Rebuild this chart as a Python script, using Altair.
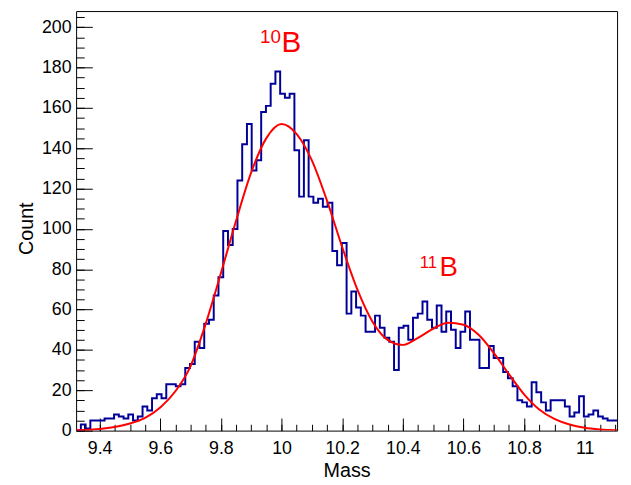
import altair as alt
import pandas as pd

# ---- data ----
x_min, x_max = 9.3225, 11.1067
counts = [0, 3, 1, 5, 5, 5, 6, 6, 8, 7, 6, 8, 5, 7, 12, 10, 16, 18, 16, 23,
          23, 22, 23, 31, 33, 44, 41, 53, 55, 67, 76, 99, 92, 100, 124, 142, 152, 129, 134, 158,
          161, 172, 178, 167, 165, 167, 139, 116, 144, 116, 113, 115, 111, 113, 89, 82, 93, 58, 69, 61,
          57, 49, 49, 57, 51, 46, 44, 30, 51, 52, 45, 56, 58, 64, 55, 51, 62, 49, 59, 50,
          41, 49, 59, 45, 45, 31, 31, 42, 36, 36, 29, 26, 22, 15, 14, 12, 24, 19, 14, 10,
          15, 15, 15, 12, 7, 9, 17, 7, 8, 10, 7, 6, 5, 5]

fit_x = [9.3225, 9.35, 9.40, 9.45, 9.50, 9.55, 9.60, 9.65, 9.70, 9.75, 9.80, 9.85, 9.90,
         9.95, 10.00, 10.05, 10.10, 10.15, 10.20, 10.25, 10.30, 10.35, 10.40, 10.45,
         10.50, 10.55, 10.60, 10.65, 10.70, 10.75, 10.80, 10.85, 10.90, 10.95, 11.00,
         11.05, 11.1067]
fit_y = [0.2, 0.3, 0.8, 1.8, 3.5, 6.3, 11.5, 19.5, 32, 53, 78, 104, 128,
         145, 152, 147, 134, 114, 91, 70, 54, 45, 42.5, 46,
         50.5, 53.5, 52.5, 47.5, 38.5, 28, 18, 10.5, 5.8, 3.0, 1.4,
         0.6, 0.2]

anno_text = ["10", "B", "11", "B"]
anno_x = [9.929, 10.0, 10.456, 10.521]
anno_y = [192, 187.5, 80.5, 76.5]
anno_size = [19, 30, 17, 28]

x_major = [9.4, 9.6, 9.8, 10.0, 10.2, 10.4, 10.6, 10.8, 11.0]
x_minor = [round(9.35 + 0.05 * k, 2) for k in range(36)]
y_major = list(range(0, 201, 20))
y_minor = list(range(0, 206, 5))

# ---- tables ----
n = len(counts)
w = (x_max - x_min) / n
hist = pd.DataFrame({
    "mass": [x_min + i * w for i in range(n)] + [x_max],
    "count": counts + [counts[-1]],
})
fit = pd.DataFrame({"mass": fit_x, "count": fit_y})
anno = pd.DataFrame({"t": anno_text, "mass": anno_x, "count": anno_y, "fs": anno_size})

FONT = "Liberation Sans"
xs = alt.Scale(domain=[x_min, x_max], nice=False, zero=False)
ys = alt.Scale(domain=[0, 208], nice=False, zero=False)

x_axis = alt.Axis(
    orient="bottom", values=x_major, grid=False, domain=False,
    tickSize=alt.ExprRef("-12.75"), tickColor="black", tickWidth=1,
    labelExpr="datum.value == round(datum.value) ? format(datum.value, 'd') : format(datum.value, '.1f')",
    labelPadding=22, labelFont=FONT, labelFontSize=18, labelColor="black",
    labelFlush=False, labelOverlap=False, labelBaseline="top",
    title="Mass", titleFont=FONT, titleFontSize=20, titleFontWeight="normal",
    titleColor="black", titleX=274, titleY=40, titleBaseline="middle", titleAlign="center",
)
x_axis_minor = alt.Axis(
    orient="bottom", values=x_minor, grid=False, domain=False, labels=False, title=None,
    tickSize=alt.ExprRef("-6.4"), tickColor="black", tickWidth=1,
)
y_axis = alt.Axis(
    orient="left", values=y_major, grid=False, domain=False,
    tickSize=alt.ExprRef("-16.4"), tickColor="black", tickWidth=1,
    labelExpr="format(datum.value, 'd')",
    labelPadding=21.5, labelFont=FONT, labelFontSize=18, labelColor="black",
    labelFlush=False, labelOverlap=False,
    title="Count", titleFont=FONT, titleFontSize=20, titleFontWeight="normal",
    titleColor="black", titleX=-50, titleY=220, titleAngle=270,
    titleBaseline="middle", titleAlign="center",
)
y_axis_minor = alt.Axis(
    orient="left", values=y_minor, grid=False, domain=False, labels=False, title=None,
    tickSize=alt.ExprRef("-8.2"), tickColor="black", tickWidth=1,
)

h = alt.Chart(hist).mark_line(
    interpolate="step-after", color="#000099", strokeWidth=2, clip=True
).encode(
    x=alt.X("mass:Q", scale=xs, axis=x_axis),
    y=alt.Y("count:Q", scale=ys, axis=y_axis),
)
f = alt.Chart(fit).mark_line(
    interpolate="monotone", color="#ff0000", strokeWidth=2, clip=True
).encode(
    x=alt.X("mass:Q", scale=xs, axis=x_axis_minor),
    y=alt.Y("count:Q", scale=ys, axis=y_axis_minor),
)
t = alt.Chart(anno).mark_text(
    align="left", baseline="alphabetic", color="#ff0000", font=FONT
).encode(
    x=alt.X("mass:Q", scale=xs, axis=None),
    y=alt.Y("count:Q", scale=ys, axis=None),
    text="t:N",
    size=alt.Size("fs:Q", scale=None, legend=None),
)

chart = alt.layer(h, f, t).resolve_axis(x="independent", y="independent").properties(
    width=548, height=425,
    autosize=alt.AutoSizeParams(type="none"),
    padding={"left": 69, "top": 0, "right": 6, "bottom": 52},
    background="white",
).configure_view(stroke="black", strokeWidth=1)

chart.save("out.html", embed_options={"renderer": "svg", "actions": False})
